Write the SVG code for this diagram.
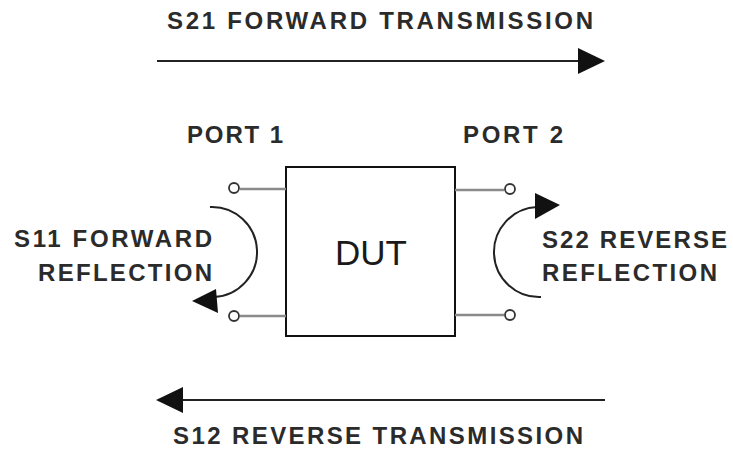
<svg xmlns="http://www.w3.org/2000/svg" width="733" height="449" viewBox="0 0 733 449">
<style>
.lbl{font-family:"Liberation Sans",Arial,sans-serif;font-weight:bold;font-size:24px;fill:#2b2b2b}
.ln{stroke:#222;stroke-width:2;fill:none}
.wire{stroke:#8a8a8a;stroke-width:2.5;fill:none}
.term{stroke:#333;stroke-width:1.8;fill:#fff}
.head{fill:#111;stroke:none}
</style>
<rect width="733" height="449" fill="#fff"/>
<g id="dut">
<rect x="286" y="167" width="169" height="169" fill="#fff" stroke="#111" stroke-width="2"/>
<text x="371" y="265" text-anchor="middle" style="font-family:'Liberation Sans',Arial,sans-serif;font-size:35px;fill:#1a1a1a">DUT</text>
</g>
<g id="port1">
<line class="wire" x1="240" y1="189" x2="286" y2="189"/>
<line class="wire" x1="240" y1="316" x2="286" y2="316"/>
<circle class="term" cx="234" cy="188" r="5"/>
<circle class="term" cx="234" cy="316" r="5"/>
<text class="lbl" x="187" y="143" textLength="96" lengthAdjust="spacing">PORT 1</text>
</g>
<g id="port2">
<line class="wire" x1="455" y1="190" x2="504" y2="190"/>
<line class="wire" x1="455" y1="315" x2="504" y2="315"/>
<circle class="term" cx="510" cy="189" r="5"/>
<circle class="term" cx="510" cy="315" r="5"/>
<text class="lbl" x="463" y="143" textLength="100" lengthAdjust="spacing">PORT 2</text>
</g>
<g id="labels">
<text class="lbl" x="167" y="29" textLength="426" lengthAdjust="spacing">S21 FORWARD TRANSMISSION</text>
<text class="lbl" x="173" y="444" textLength="410" lengthAdjust="spacing">S12 REVERSE TRANSMISSION</text>
<text class="lbl" x="14" y="247" textLength="198" lengthAdjust="spacing">S11 FORWARD</text>
<text class="lbl" x="38" y="281" textLength="174" lengthAdjust="spacing">REFLECTION</text>
<text class="lbl" x="542" y="248" textLength="185" lengthAdjust="spacing">S22 REVERSE</text>
<text class="lbl" x="542" y="281" textLength="175" lengthAdjust="spacing">REFLECTION</text>
</g>
<g id="connectors">
<line class="ln" x1="157" y1="61" x2="582" y2="61"/>
<polygon class="head" points="605,61 578,48 578,74"/>
<line class="ln" x1="180" y1="400" x2="605" y2="400"/>
<polygon class="head" points="156,400 183,387 183,413"/>
<path class="ln" d="M210,207 A45,45 0 0 1 214,297"/>
<polygon class="head" points="192,301 216,289 218,313"/>
<path class="ln" d="M541,297 A45,45 0 0 1 537,207"/>
<polygon class="head" points="560,205 535,193 535,219"/>
</g>
</svg>
